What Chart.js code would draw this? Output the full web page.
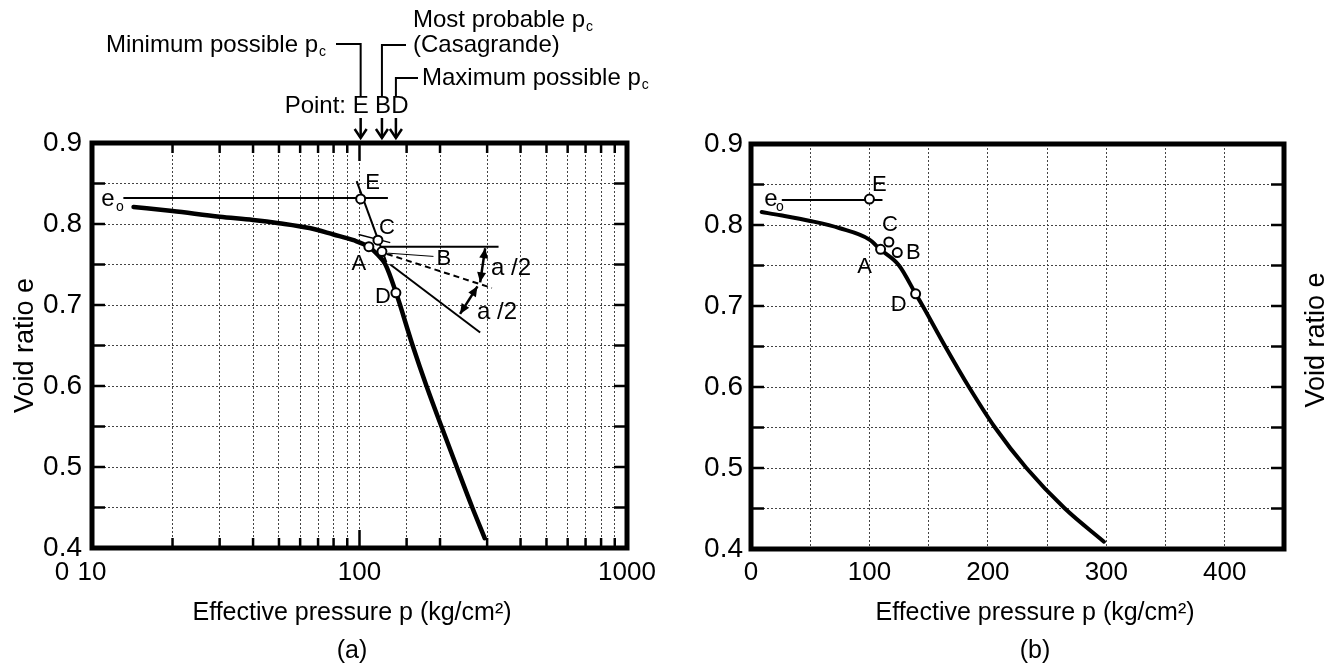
<!DOCTYPE html>
<html>
<head>
<meta charset="utf-8">
<script src="https://cdn.jsdelivr.net/npm/chart.js@4.4.0/dist/chart.umd.min.js"></script>
<style>
  html, body { margin: 0; padding: 0; background: #fff; }
  #wrap { position: relative; width: 1343px; height: 670px; }
  #chartA { position: absolute; left: 0; top: 0; }
  #chartB { position: absolute; left: 680px; top: 0; }
</style>
</head>
<body>
<div id="wrap">
  <canvas id="chartA" width="680" height="670"></canvas>
  <canvas id="chartB" width="663" height="670"></canvas>
</div>
<script>
// ---------- data ----------
// (a) e - log p
const pressureA = [14.3, 20, 30, 40, 50, 65, 80, 95, 108, 117, 125, 137, 158, 178, 202.5, 231, 264, 294];
const voidA = [0.821, 0.816, 0.809, 0.805, 0.801, 0.795, 0.787, 0.780, 0.772, 0.762, 0.750, 0.715, 0.650, 0.600, 0.550, 0.500, 0.450, 0.412];

// (b) e - p
const pressureB = [9, 25, 50, 75, 100, 109, 125, 139, 145, 164, 184, 206, 232.5, 265, 298];
const voidB = [0.816, 0.812, 0.805, 0.796, 0.782, 0.770, 0.750, 0.715, 0.700, 0.650, 0.600, 0.550, 0.500, 0.450, 0.409];

// marked points
const pointNames = ['E', 'A', 'C', 'B', 'D'];
const pointPA = [101, 108.4, 117.2, 121.3, 136.8];
const pointEA = [0.831, 0.772, 0.780, 0.766, 0.715];
const pointPB = [100, 109.4, 116.4, 123.5, 139];
const pointEB = [0.832, 0.770, 0.779, 0.766, 0.715];

// Casagrande construction lines in (a): [p, e] pairs
const e0LineA = [[13.1, 0.832], [127.7, 0.832]];
const virginExtA = [[97.6, 0.853], [126, 0.753]];
const tangentTopA = [[99.2, 0.787], [130.3, 0.777]];
const horizontalA = [[120.5, 0.772], [331, 0.772]];
const leaderBA = [[128, 0.764], [189, 0.760]];
const bisectorA = [[126.6, 0.763], [312.6, 0.721]];
const tangentA = [[130.3, 0.750], [282.5, 0.666]];
const halfArrowsA = [[[295, 0.770], [282.5, 0.728]], [[276, 0.723], [237.7, 0.689]]];
const e0LineB = [[26, 0.831], [111, 0.831]];

// tick labels
const yTickLabels = [0.4, 0.5, 0.6, 0.7, 0.8, 0.9];
const xTickLabelsA = [10, 100, 1000];
const xTickLabelsB = [0, 100, 200, 300, 400];

const FONT = '"Liberation Sans", Arial, Helvetica, sans-serif';
Chart.defaults.font.family = FONT;
Chart.defaults.color = '#000';

const toXY = (xs, ys) => xs.map((x, i) => ({ x: x, y: ys[i] }));

function segment(pairs, width, dash) {
    return {
        data: pairs.map(([x, y]) => ({ x, y })),
        showLine: true,
        borderColor: '#000',
        borderWidth: width,
        borderDash: dash || [],
        pointRadius: 0,
        tension: 0
    };
}

function pointsSet(xs, ys) {
    return {
        data: toXY(xs, ys),
        showLine: false,
        pointRadius: 4.5,
        pointBorderWidth: 2,
        pointBackgroundColor: '#fff',
        pointBorderColor: '#000'
    };
}

function curveSet(xs, ys, width) {
    return {
        data: toXY(xs, ys),
        showLine: true,
        borderColor: '#000',
        borderWidth: width,
        borderCapStyle: 'round',
        borderJoinStyle: 'round',
        cubicInterpolationMode: 'monotone',
        pointRadius: 0
    };
}

function yLabel(v) {
    const r = Math.round(v * 100) / 100;
    return yTickLabels.some(t => Math.abs(t - r) < 1e-6) ? r.toFixed(1) : '';
}

// ---------- drawing helpers ----------
function text(ctx, str, x, y, size, align) {
    ctx.font = size + 'px ' + FONT;
    ctx.textAlign = align || 'center';
    ctx.textBaseline = 'middle';
    ctx.fillStyle = '#000';
    ctx.fillText(str, x, y);
}

function line(ctx, x1, y1, x2, y2) {
    ctx.beginPath();
    ctx.moveTo(x1, y1);
    ctx.lineTo(x2, y2);
    ctx.stroke();
}

function arrowHead(ctx, fx, fy, tx, ty, len, half) {
    const ang = Math.atan2(ty - fy, tx - fx);
    ctx.beginPath();
    ctx.moveTo(tx, ty);
    ctx.lineTo(tx - len * Math.cos(ang) + half * Math.sin(ang), ty - len * Math.sin(ang) - half * Math.cos(ang));
    ctx.lineTo(tx - len * Math.cos(ang) - half * Math.sin(ang), ty - len * Math.sin(ang) + half * Math.cos(ang));
    ctx.closePath();
    ctx.fill();
}

function drawFrame(chart, logTicks) {
    const { ctx, chartArea: a, scales: { x, y } } = chart;
    ctx.save();
    ctx.strokeStyle = '#000';
    ctx.setLineDash([]);
    ctx.lineWidth = 2.5;
    y.ticks.forEach(t => {
        const py = y.getPixelForValue(t.value);
        line(ctx, a.left, py, a.left + 13, py);
        line(ctx, a.right - 13, py, a.right, py);
    });
    if (logTicks) {
        x.ticks.forEach(t => {
            const px = x.getPixelForValue(t.value);
            const len = Math.abs(t.value - 100) < 1e-6 ? 18 : 10;
            line(ctx, px, a.top, px, a.top + len);
            line(ctx, px, a.bottom - len, px, a.bottom);
        });
    }
    ctx.lineWidth = 5;
    ctx.strokeRect(a.left, a.top, a.right - a.left, a.bottom - a.top);
    ctx.restore();
}

function withSub(ctx, main, sub, x, y, size, align) {
    ctx.font = size + 'px ' + FONT;
    const wMain = ctx.measureText(main).width;
    ctx.font = Math.round(size * 0.6) + 'px ' + FONT;
    const wSub = ctx.measureText(sub).width;
    const left = align === 'right' ? x - wMain - wSub : x;
    text(ctx, main, left, y, size, 'left');
    text(ctx, sub, left + wMain + 1, y + size * 0.3, Math.round(size * 0.6), 'left');
}

// ---------- plugins ----------
const decorA = {
    id: 'decorA',
    afterDraw(chart) {
        const { ctx, chartArea: a, scales: { x, y } } = chart;
        drawFrame(chart, true);
        ctx.save();

        // a/2 double arrows
        ctx.strokeStyle = '#000';
        ctx.fillStyle = '#000';
        ctx.lineWidth = 2.5;
        halfArrowsA.forEach(([p1, p2]) => {
            const x1 = x.getPixelForValue(p1[0]), y1 = y.getPixelForValue(p1[1]);
            const x2 = x.getPixelForValue(p2[0]), y2 = y.getPixelForValue(p2[1]);
            line(ctx, x1, y1, x2, y2);
            arrowHead(ctx, x2, y2, x1, y1, 10, 4.5);
            arrowHead(ctx, x1, y1, x2, y2, 10, 4.5);
        });
        text(ctx, 'a /2', 511, 268, 24);
        text(ctx, 'a /2', 497, 312, 24);

        // point letters
        const offs = [[12, -16], [-10, 17], [9, -12], [62, 7], [-13, 4]];
        pointNames.forEach((n, i) => {
            const px = x.getPixelForValue(pointPA[i]), py = y.getPixelForValue(pointEA[i]);
            text(ctx, n, px + offs[i][0], py + offs[i][1], 22);
        });
        text(ctx, 'e', 108, 199, 24);
        text(ctx, 'o', 120, 207, 14);

        // stray "0" next to the 10 label
        text(ctx, '0', a.left - 30, 573, 26);

        // axis title and panel label
        text(ctx, 'Effective pressure p (kg/cm\u00B2)', 352, 613, 25);
        text(ctx, '(a)', 352, 651, 25);

        // pre-consolidation pressure notes above the plot
        const xE = x.getPixelForValue(pointPA[0]);
        const xB = x.getPixelForValue(pointPA[3]);
        const xD = x.getPixelForValue(pointPA[4]);
        ctx.lineWidth = 2;
        ctx.beginPath();
        ctx.moveTo(336, 44); ctx.lineTo(xE, 44); ctx.lineTo(xE, 97);
        ctx.moveTo(406, 45); ctx.lineTo(xB, 45); ctx.lineTo(xB, 97);
        ctx.moveTo(418, 78); ctx.lineTo(xD, 78); ctx.lineTo(xD, 97);
        ctx.stroke();
        withSub(ctx, 'Minimum possible p', 'c', 325, 45, 24, 'right');
        withSub(ctx, 'Most probable p', 'c', 413, 20, 24, 'left');
        text(ctx, '(Casagrande)', 413, 45, 24, 'left');
        withSub(ctx, 'Maximum possible p', 'c', 422, 78, 24, 'left');
        text(ctx, 'Point:', 346, 106, 24, 'right');
        text(ctx, 'E', xE, 106, 24);
        text(ctx, 'B', xB + 1, 106, 24);
        text(ctx, 'D', xD + 4, 106, 24);
        ctx.lineWidth = 2.5;
        [xE, xB, xD].forEach(px => {
            line(ctx, px, 118, px, 138);
            ctx.beginPath();
            ctx.moveTo(px - 6, 129); ctx.lineTo(px, 138); ctx.lineTo(px + 6, 129);
            ctx.stroke();
        });
        ctx.restore();
    }
};

const decorB = {
    id: 'decorB',
    afterDraw(chart) {
        const { ctx, scales: { x, y } } = chart;
        drawFrame(chart, false);
        ctx.save();
        const offs = [[10, -14], [-16, 18], [1, -17], [16, 0], [-17, 11]];
        pointNames.forEach((n, i) => {
            const px = x.getPixelForValue(pointPB[i]), py = y.getPixelForValue(pointEB[i]);
            text(ctx, n, px + offs[i][0], py + offs[i][1], 22);
        });
        text(ctx, 'e', 91, 199, 24);
        text(ctx, 'o', 100, 207, 14);
        text(ctx, 'Effective pressure p (kg/cm\u00B2)', 355, 613, 25);
        text(ctx, '(b)', 355, 651, 25);
        ctx.translate(637, 340);
        ctx.rotate(-Math.PI / 2);
        text(ctx, 'Void ratio e', 0, 0, 27);
        ctx.restore();
    }
};

const gridStyle = { color: '#444', lineWidth: 1, drawTicks: false };
const gridBorder = { display: false, dash: [2, 2] };

// ---------- chart (a) ----------
new Chart(document.getElementById('chartA').getContext('2d'), {
    type: 'scatter',
    data: {
        datasets: [
            pointsSet(pointPA, pointEA),
            curveSet(pressureA, voidA, 4.5),
            segment(e0LineA, 2),
            segment(virginExtA, 2),
            segment(tangentTopA, 1.5),
            segment(horizontalA, 2),
            segment(leaderBA, 1),
            segment(bisectorA, 2, [6, 4]),
            segment(tangentA, 2)
        ]
    },
    options: {
        responsive: false,
        animation: false,
        layout: { padding: { left: 0, top: 143, right: 53, bottom: 0 } },
        plugins: { legend: { display: false }, tooltip: { enabled: false } },
        scales: {
            x: {
                type: 'logarithmic',
                min: 10,
                max: 1000,
                afterFit: s => { s.height = 122; },
                ticks: {
                    autoSkip: false,
                    maxRotation: 0,
                    padding: 9,
                    font: { size: 26 },
                    callback: v => xTickLabelsA.some(t => Math.abs(t - v) < 1e-6) ? String(v) : ''
                },
                grid: gridStyle,
                border: gridBorder
            },
            y: {
                min: 0.4,
                max: 0.9,
                afterFit: s => { s.width = 92; },
                ticks: { stepSize: 0.05, padding: 10, font: { size: 28 }, callback: yLabel },
                grid: gridStyle,
                border: gridBorder,
                title: { display: true, text: 'Void ratio e', font: { size: 27 }, padding: { top: 9, bottom: 0 } }
            }
        }
    },
    plugins: [decorA]
});

// ---------- chart (b) ----------
new Chart(document.getElementById('chartB').getContext('2d'), {
    type: 'scatter',
    data: {
        datasets: [
            pointsSet(pointPB, pointEB),
            curveSet(pressureB, voidB, 4),
            segment(e0LineB, 2)
        ]
    },
    options: {
        responsive: false,
        animation: false,
        layout: { padding: { left: 0, top: 144, right: 59, bottom: 0 } },
        plugins: { legend: { display: false }, tooltip: { enabled: false } },
        scales: {
            x: {
                type: 'linear',
                min: 0,
                max: 450,
                afterFit: s => { s.height = 121; },
                ticks: {
                    stepSize: 50,
                    autoSkip: false,
                    maxRotation: 0,
                    padding: 8,
                    font: { size: 26 },
                    callback: v => xTickLabelsB.includes(v) ? String(v) : ''
                },
                grid: gridStyle,
                border: gridBorder
            },
            y: {
                min: 0.4,
                max: 0.9,
                afterFit: s => { s.width = 71; },
                ticks: { stepSize: 0.05, padding: 8, font: { size: 28 }, callback: yLabel },
                grid: gridStyle,
                border: gridBorder
            }
        }
    },
    plugins: [decorB]
});
</script>
</body>
</html>
